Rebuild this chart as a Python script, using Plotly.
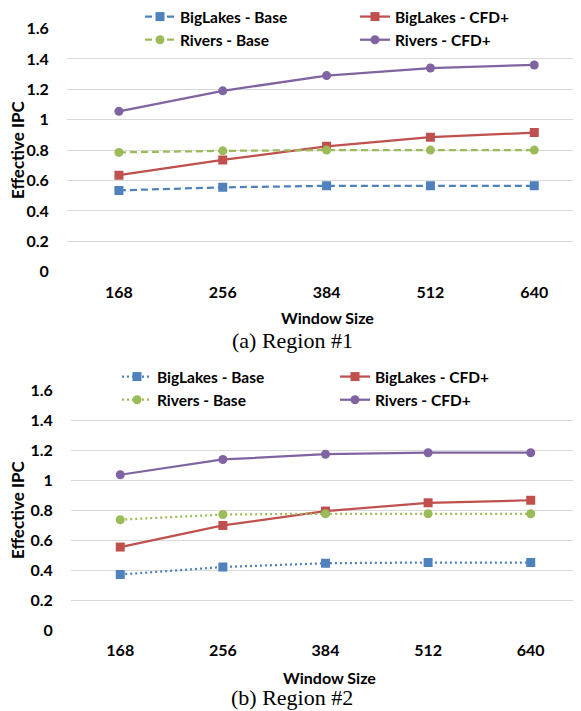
import plotly.graph_objects as go

# ---- data ----
window_sizes = ["168", "256", "384", "512", "640"]

r1_biglakes_base = [0.535, 0.555, 0.565, 0.565, 0.565]
r1_biglakes_cfd = [0.635, 0.735, 0.825, 0.885, 0.915]
r1_rivers_base = [0.785, 0.795, 0.800, 0.800, 0.800]
r1_rivers_cfd = [1.055, 1.190, 1.290, 1.340, 1.360]

r2_biglakes_base = [0.370, 0.420, 0.445, 0.450, 0.450]
r2_biglakes_cfd = [0.553, 0.697, 0.793, 0.848, 0.865]
r2_rivers_base = [0.735, 0.770, 0.775, 0.775, 0.775]
r2_rivers_cfd = [1.035, 1.137, 1.172, 1.182, 1.182]

series_names = ["BigLakes - Base", "BigLakes - CFD+", "Rivers - Base", "Rivers - CFD+"]
y_tickvals = [0, 0.2, 0.4, 0.6, 0.8, 1.0, 1.2, 1.4, 1.6]
y_ticktext = ["0", "0.2", "0.4", "0.6", "0.8", "1", "1.2", "1.4", "1.6"]
captions = ["(a) Region #1", "(b) Region #2"]

# ---- styles ----
BLUE = "#4F81BD"
RED = "#C0504D"
GREEN = "#9BBB59"
PURPLE = "#8064A2"
FONT = "Lato"
OFF = 8                      # page body margin
W, H = 581 - OFF, 711 - OFF  # figure size so that it fits the window


def fx(px):
    return (px - OFF) / W


def fy(px):
    return 1 - (px - OFF) / H


fig = go.Figure()


def add_panel(values, xa, ya, leg_left, leg_right, base_dash):
    styles = [
        (BLUE, "square", base_dash, leg_left),
        (RED, "square", "solid", leg_right),
        (GREEN, "circle", base_dash, leg_left),
        (PURPLE, "circle", "solid", leg_right),
    ]
    for name, vals, (col, sym, dash, leg) in zip(series_names, values, styles):
        fig.add_trace(go.Scatter(
            x=window_sizes, y=vals, name=name, mode="lines+markers",
            line=dict(color=col, width=2.25, dash=dash),
            marker=dict(color=col, symbol=sym, size=9),
            xaxis=xa, yaxis=ya, legend=leg,
        ))


add_panel([r1_biglakes_base, r1_biglakes_cfd, r1_rivers_base, r1_rivers_cfd],
          "x", "y", "legend", "legend2", "7px,4px")
add_panel([r2_biglakes_base, r2_biglakes_cfd, r2_rivers_base, r2_rivers_cfd],
          "x2", "y2", "legend3", "legend4", "2px,3px")

tickfont = dict(family=FONT, size=16, color="#000", weight="bold")


def xaxis(domain, anchor, rng):
    return dict(domain=domain, anchor=anchor, type="category", range=rng,
                showgrid=False, showline=False, zeroline=False,
                ticks="outside", ticklen=6, tickcolor="rgba(0,0,0,0)",
                tickfont=tickfont, automargin=False)


def yaxis(domain, anchor):
    return dict(domain=domain, anchor=anchor, range=[0, 1.6],
                tickvals=y_tickvals, ticktext=y_ticktext,
                showgrid=True, gridcolor="#D9D9D9", gridwidth=1,
                showline=False, zeroline=False,
                ticks="outside", ticklen=14, tickcolor="rgba(0,0,0,0)",
                tickfont=tickfont, automargin=False)


legend_common = dict(orientation="v", xref="paper", yref="paper",
                     xanchor="left", yanchor="top", bgcolor="rgba(0,0,0,0)",
                     tracegroupgap=0,
                     font=dict(family=FONT, size=15.5, color="#000", weight="bold"))

fig.update_layout(
    width=W, height=H, autosize=False,
    margin=dict(l=0, r=0, t=0, b=0, autoexpand=False),
    paper_bgcolor="white", plot_bgcolor="white",
    xaxis=xaxis([fx(67), 1.0], "y", [-0.5, 4.45]),
    yaxis=yaxis([fy(271.7), fy(28.5)], "x"),
    xaxis2=xaxis([fx(71), 1.0], "y2", [-0.48, 4.49]),
    yaxis2=yaxis([fy(630), fy(390)], "x2"),
    legend=dict(x=fx(140), y=fy(0), **legend_common),
    legend2=dict(x=fx(355), y=fy(0), **legend_common),
    legend3=dict(x=fx(117), y=fy(360), **legend_common),
    legend4=dict(x=fx(335), y=fy(360), **legend_common),
    showlegend=True,
)

ann_font = dict(family=FONT, size=16, color="#000", weight="bold")
ytitle_font = dict(family=FONT, size=17, color="#000", weight="bold")
cap_font = dict(family="Liberation Serif", size=22, color="#000")
annotations = [
    dict(text="Effective IPC", x=fx(17), y=fy(150), textangle=-90, font=ytitle_font),
    dict(text="Effective IPC", x=fx(17), y=fy(510), textangle=-90, font=ytitle_font),
    dict(text="Window Size", x=fx(327), y=fy(317), font=ann_font),
    dict(text="Window Size", x=fx(329), y=fy(677), font=ann_font),
    dict(text=captions[0], x=fx(292), y=fy(341), font=cap_font),
    dict(text=captions[1], x=fx(292), y=fy(697), font=cap_font),
]
for a in annotations:
    fig.add_annotation(xref="paper", yref="paper", xanchor="center", yanchor="middle",
                       showarrow=False, **a)

fig.write_html("out.html")
